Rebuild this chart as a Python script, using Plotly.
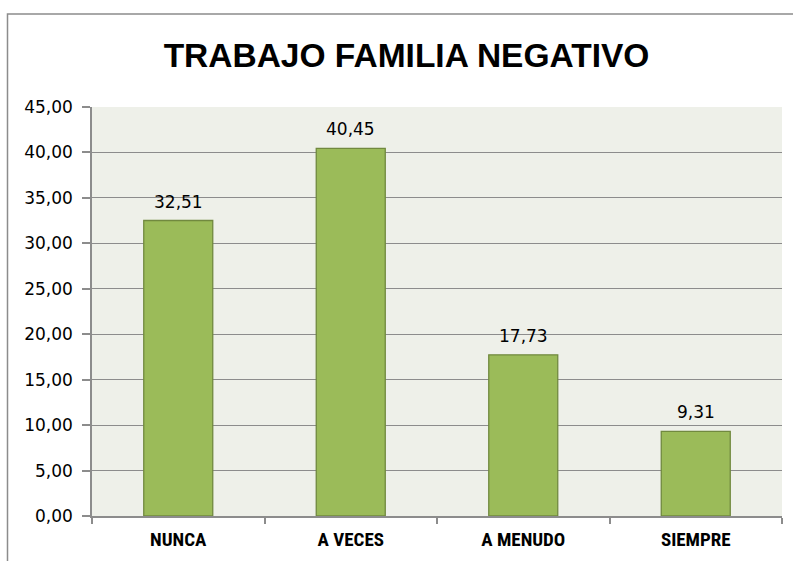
import plotly.graph_objects as go

categories = ["NUNCA", "A VECES", "A MENUDO", "SIEMPRE"]
values = [32.51, 40.45, 17.73, 9.31]
title_text = "TRABAJO FAMILIA NEGATIVO"
y_ticks = [0, 5, 10, 15, 20, 25, 30, 35, 40, 45]

W, H = 793, 561
L, R, T, B = 92, 11, 107, 45
pw, ph = W - L - R, H - T - B

fig = go.Figure()
fig.add_trace(go.Bar(
    x=categories, y=values,
    marker=dict(color="#9BBB59", line=dict(color="#71893F", width=1.3)),
    width=0.4, hoverinfo="skip",
))

for c, v in zip(categories, values):
    fig.add_annotation(
        x=c, y=v, xref="x", yref="y",
        text=f"{v:.2f}".replace(".", ","),
        showarrow=False, yanchor="middle", yshift=19,
        font=dict(family="DejaVu Sans", size=17, color="#000000"),
    )

# outer chart border (clipped on right & bottom as in reference)
def px_x(p):
    return (p - L) / pw

def px_y(p):
    return (H - B - p) / ph

fig.add_shape(type="rect", xref="paper", yref="paper",
              x0=px_x(7.5), x1=px_x(800), y0=px_y(570), y1=px_y(14),
              line=dict(color="#8C8C8C", width=1.5), fillcolor="rgba(0,0,0,0)",
              layer="below")

fig.update_layout(
    width=W, height=H,
    margin=dict(l=L, r=R, t=T, b=B, pad=0),
    paper_bgcolor="white",
    plot_bgcolor="#EEF0E9",
    separators=",.",
    showlegend=False,
    title=dict(
        text=title_text, x=406.5 / W, xanchor="center",
        y=1 - 55 / H, yanchor="middle", xref="container", yref="container",
        font=dict(family="Liberation Sans", size=33.5, color="#000000", weight="bold"),
    ),
    bargap=0.6,
)

fig.update_xaxes(
    showline=True, linecolor="#8C8C8C", linewidth=1.5,
    ticks="outside", tickson="boundaries", ticklen=6, tickcolor="#8C8C8C", tickwidth=1.5,
    ticklabelstandoff=5,
    tickfont=dict(family="Roboto Condensed, Liberation Sans Narrow, DejaVu Sans Condensed, Liberation Sans",
                  size=19, color="#000000", weight="bold"),
    showgrid=False, fixedrange=True,
)
fig.update_yaxes(
    range=[0, 45], tickvals=y_ticks, tickformat=".2f",
    showline=True, linecolor="#8C8C8C", linewidth=1.5,
    ticks="outside", ticklen=8, tickcolor="#8C8C8C", tickwidth=1.5,
    ticklabelstandoff=6,
    showgrid=True, gridcolor="#8C8C8C", gridwidth=1.2,
    tickfont=dict(family="DejaVu Sans", size=17, color="#000000"),
    zeroline=False, fixedrange=True,
)

fig.write_html("out.html", config={"displayModeBar": False},
               post_script="document.body.style.margin='0px';")
